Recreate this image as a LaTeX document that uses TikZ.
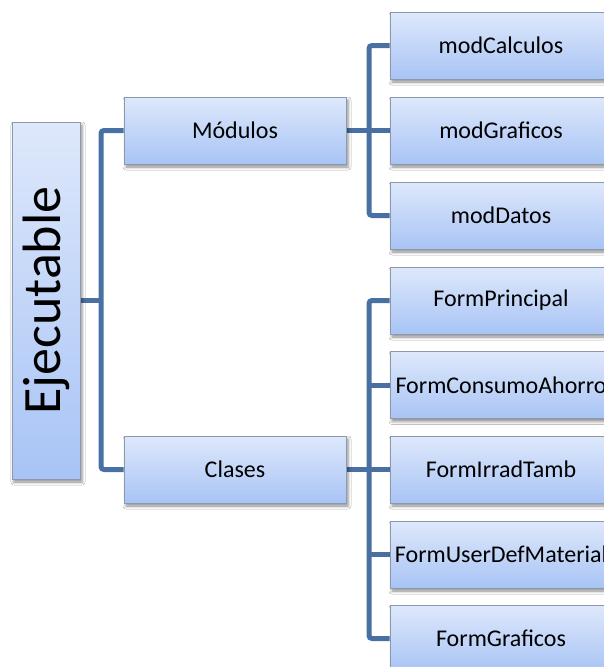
\documentclass[tikz,border=0pt]{standalone}
\usepackage{fontspec}
\setmainfont{Carlito}
\usetikzlibrary{shadows.blur,backgrounds}
\definecolor{boxtop}{RGB}{222,232,251}
\definecolor{boxbot}{RGB}{168,196,245}
\definecolor{boxline}{RGB}{140,152,172}
\definecolor{linkblue}{RGB}{72,112,162}
\tikzset{
  box/.style={draw=boxline, line width=0.8pt, top color=boxtop, bottom color=boxbot,
    minimum width=222pt, minimum height=67pt, inner sep=0pt, text=black,
    font=\fontsize{24}{28}\selectfont,
    blur shadow={shadow xshift=2pt, shadow yshift=-3pt, shadow blur radius=3pt, shadow opacity=45}},
  rootbox/.style={box, minimum width=68pt, minimum height=357pt,
    font=\fontsize{54}{60}\selectfont},
  link/.style={draw=linkblue, line width=5pt, rounded corners=3pt}
}
\begin{document}
\begin{tikzpicture}[x=1pt,y=-1pt]
  \useasboundingbox (0,0) rectangle (604,667);
  \clip (0,0) rectangle (604,667);

  % root and second level
  \node[rootbox] (exe) at (46,300.5) {\rotatebox{90}{Ejecutable}};
  \node[box] (mods) at (235,130.5) {Módulos};
  \node[box] (cls)  at (235,469.5) {Clases};

  % modules
  \node[box] (mcalc) at (501,45.5)  {modCalculos};
  \node[box] (mgraf) at (501,130.5) {modGraficos};
  \node[box] (mdat)  at (501,215.5) {modDatos};

  % classes
  \node[box] (fp)  at (501,300.5) {FormPrincipal};
  \node[box] (fca) at (501,385)   {FormConsumoAhorro};
  \node[box] (fi)  at (501,469.5) {FormIrradTamb};
  \node[box] (fu)  at (501,554.5) {FormUserDefMaterial};
  \node[box] (fg)  at (501,638.5) {FormGraficos};

  % junction points of the tree lines
  \coordinate (j1) at (101,300.5);
  \coordinate (j2) at (369,130.5);
  \coordinate (j3) at (369,469.5);

  \begin{scope}[on background layer]
    \fill[white] (0,0) rectangle (604,667);
    \draw[link] (exe.east) -- (j1);
    \draw[link] (mods.west) -| (j1) |- (cls.west);

    \draw[link] (mods.east) -- (mgraf.west);
    \draw[link] (mcalc.west) -| (j2) |- (mdat.west);

    \draw[link] (cls.east) -- (fi.west);
    \draw[link] (fp.west) -| (j3) |- (fg.west);
    \draw[link] (j3 |- fca.west) -- (fca.west);
    \draw[link] (j3 |- fu.west) -- (fu.west);
  \end{scope}
\end{tikzpicture}
\end{document}
